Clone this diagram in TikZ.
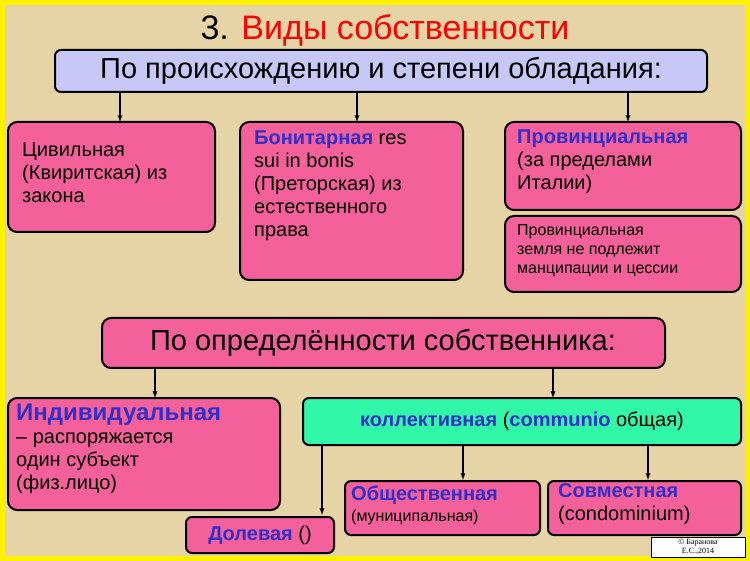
\documentclass[tikz,border=0pt]{standalone}
\usepackage{fontspec}
\setmainfont{Liberation Sans}
\newfontfamily\serifcr{Liberation Serif}
\begin{document}
\begin{tikzpicture}[x=1pt,y=-1pt]
\definecolor{bg}{HTML}{E6D4A6}
\definecolor{pinkb}{HTML}{F4609A}
\definecolor{blueb}{HTML}{C8C8F8}
\definecolor{greenb}{HTML}{30F8A8}
\definecolor{bluet}{HTML}{3030C8}
\tikzset{
 box/.style={draw=black,line width=2pt,rounded corners=9pt,fill=pinkb,inner sep=0pt},
 arr/.style={-latex,line width=1.3pt},
 txt/.style={anchor=north west,align=left,inner sep=0pt,font=\fontsize{20}{23}\selectfont}
}
\fill[yellow] (0,0) rectangle (750,561);
\fill[bg] (5,5) rectangle (745,556);
\node (title) at (385,30) {\fontsize{34}{36}\selectfont 3. \textcolor{red}{Виды собственности}};
\draw[box,fill=blueb,rounded corners=6pt] (55,50) rectangle (707,92);
\node (top) at (381,71) {\fontsize{29}{30}\selectfont По происхождению и степени обладания:};
\coordinate (t1) at (120,92); \coordinate (t2) at (357,92); \coordinate (t3) at (628,92);
\draw[box] (8,122) rectangle (215,232);
\node[txt] (b1) at (22,143) {Цивильная\\(Квиритская) из\\закона};
\draw[box] (240,122) rectangle (463,280);
\node[txt] (b2) at (254,131) {\textcolor{bluet}{\textbf{Бонитарная}} res\\sui in bonis\\(Преторская) из\\естественного\\права};
\draw[box] (505,122) rectangle (741,210);
\node[txt] (b3) at (517,130) {\textcolor{bluet}{\textbf{Провинциальная}}\\(за пределами\\Италии)};
\draw[box] (505,216) rectangle (741,292);
\node[txt,font=\fontsize{16}{19}\selectfont] (b4) at (517,224) {Провинциальная\\земля не подлежит\\манципации и цессии};
\coordinate (b1t) at (120,122); \coordinate (b2t) at (357,122); \coordinate (b3t) at (628,122);
\draw[arr] (t1) -- (b1t); \draw[arr] (t2) -- (b2t); \draw[arr] (t3) -- (b3t);
\draw[box] (102,318) rectangle (665,368);
\node (mid) at (383,343) {\fontsize{29}{30}\selectfont По определённости собственника:};
\coordinate (m1) at (155,368); \coordinate (m2) at (553,368);
\draw[box] (8,398) rectangle (280,510);
\node[txt] (ind) at (16,404) {\textcolor{bluet}{\textbf{\fontsize{24}{26}\selectfont Индивидуальная}}\\– распоряжается\\один субъект\\(физ.лицо)};
\draw[box,fill=greenb,rounded corners=6pt] (303,398) rectangle (741,445);
\node (col) at (522,421) {\fontsize{20}{22}\selectfont\textcolor{bluet}{\textbf{коллективная}} (\textcolor{bluet}{\textbf{communio}} общая)};
\coordinate (i1) at (155,398); \coordinate (c1) at (553,398);
\draw[arr] (m1) -- (i1); \draw[arr] (m2) -- (c1);
\draw[box,rounded corners=6pt] (186,517) rectangle (334,553);
\node (dol) at (260,535) {\fontsize{20}{22}\selectfont\textcolor{bluet}{\textbf{Долевая}} ()};
\coordinate (cd) at (322,445); \coordinate (dt) at (322,515);
\draw[arr] (cd) -- (dt);
\draw[box,rounded corners=6pt] (345,481) rectangle (540,535);
\node[txt] (ob) at (351,486) {\textcolor{bluet}{\textbf{Общественная}}\\[-2pt]{\fontsize{16}{18}\selectfont(муниципальная)}};
\draw[box,rounded corners=6pt] (548,481) rectangle (741,535);
\node[txt] (sov) at (558,483) {\textcolor{bluet}{\textbf{Совместная}}\\(condominium)};
\coordinate (c2) at (463,445); \coordinate (o1) at (463,480);
\coordinate (c3) at (648,445); \coordinate (s1) at (648,480);
\draw[arr] (c2) -- (o1); \draw[arr] (c3) -- (s1);
\draw[fill=white,line width=0.6pt] (651,537) rectangle (745,557);
\node[align=center,font=\serifcr\fontsize{8}{9}\selectfont] (copy) at (698,547) {© Баранова\\Е.С.,2014};
\end{tikzpicture}
\end{document}
